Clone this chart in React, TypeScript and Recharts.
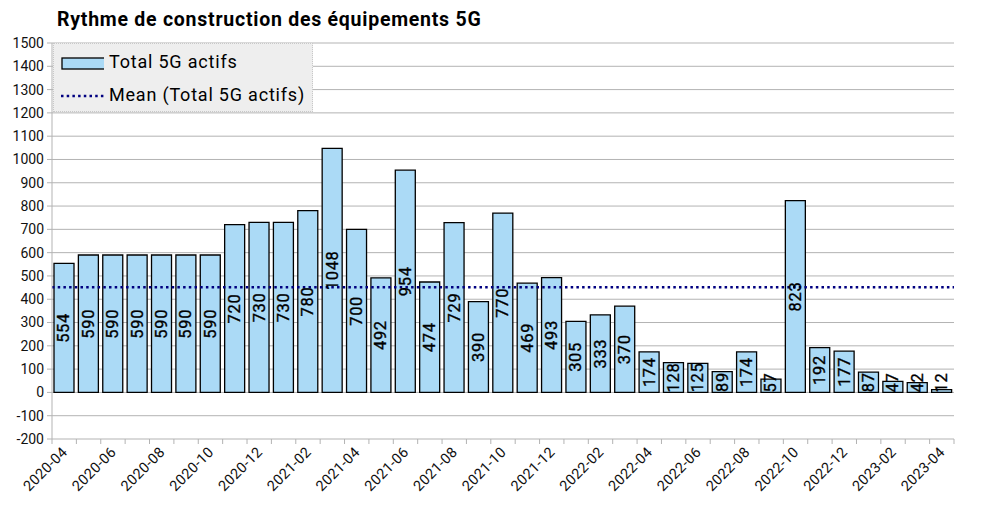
import {
  BarChart,
  Bar,
  XAxis,
  YAxis,
  CartesianGrid,
  ReferenceLine,
  LabelList,
} from "recharts";

const months = [
  "2020-04", "2020-05", "2020-06", "2020-07", "2020-08", "2020-09", "2020-10",
  "2020-11", "2020-12", "2021-01", "2021-02", "2021-03", "2021-04", "2021-05",
  "2021-06", "2021-07", "2021-08", "2021-09", "2021-10", "2021-11", "2021-12",
  "2022-01", "2022-02", "2022-03", "2022-04", "2022-05", "2022-06", "2022-07",
  "2022-08", "2022-09", "2022-10", "2022-11", "2022-12", "2023-01", "2023-02",
  "2023-03", "2023-04",
];

const totalActifs = [
  554, 590, 590, 590, 590, 590, 590, 720, 730, 730, 780, 1048, 700, 492, 954,
  474, 729, 390, 770, 469, 493, 305, 333, 370, 174, 128, 125, 89, 174, 57, 823,
  192, 177, 87, 47, 42, 12,
];

const labeledMonths = [
  "2020-04", "2020-06", "2020-08", "2020-10", "2020-12", "2021-02", "2021-04",
  "2021-06", "2021-08", "2021-10", "2021-12", "2022-02", "2022-04", "2022-06",
  "2022-08", "2022-10", "2022-12", "2023-02", "2023-04",
];

const yTicks = [
  -200, -100, 0, 100, 200, 300, 400, 500, 600, 700, 800, 900, 1000, 1100, 1200,
  1300, 1400, 1500,
];

const BAR_FILL = "#abdaf6";
const MEAN_COLOR = "#000080";
const GRID = "#b3b3b3";
const FONT = "Roboto, 'Liberation Sans', sans-serif";

const W = 985;
const H = 507;
const PLOT_LEFT = 52;
const PLOT_RIGHT = 954;
const BAND = (PLOT_RIGHT - PLOT_LEFT) / months.length;

const data = months.map((m, i) => ({ month: m, total: totalActifs[i] }));
const mean = totalActifs.reduce((a, b) => a + b, 0) / totalActifs.length;

function XTick(props: any) {
  const { x, y, payload } = props;
  const i = payload.index;
  const left = x - BAND / 2;
  const show = labeledMonths.includes(payload.value);
  const tx = x + 4;
  const ty = y + 14;
  return (
    <g>
      <line x1={left} x2={left} y1={y} y2={y + 5} stroke={GRID} />
      {i === months.length - 1 && (
        <line x1={x + BAND / 2} x2={x + BAND / 2} y1={y} y2={y + 5} stroke={GRID} />
      )}
      {show && (
        <text
          x={tx}
          y={ty}
          transform={`rotate(-45, ${tx}, ${ty})`}
          textAnchor="end"
          fontSize={14.5}
          letterSpacing={0.3}
          fontFamily={FONT}
          fill="#111"
        >
          {payload.value}
        </text>
      )}
    </g>
  );
}

function BarValue(props: any) {
  const { x, y, width, height, value } = props;
  const cx = x + width / 2;
  const base = y + height;
  const textLen = String(value).length * 10;
  const cy = Math.min(y + height / 2, base - textLen / 2);
  return (
    <text
      x={cx}
      y={cy}
      transform={`rotate(-90, ${cx}, ${cy})`}
      textAnchor="middle"
      dominantBaseline="central"
      fontSize={16.5}
      letterSpacing={0.7}
      fontFamily={FONT}
      fill="#000"
      stroke="#000"
      strokeWidth={0.35}
    >
      {value}
    </text>
  );
}

export default function App() {
  return (
    <div
      style={{
        position: "absolute",
        left: 0,
        top: 0,
        width: W,
        height: H,
        background: "#fff",
        fontFamily: FONT,
      }}
    >
      <div
        style={{
          position: "absolute",
          left: 57,
          top: 8,
          fontSize: 19.5,
          letterSpacing: 0.75,
          fontWeight: "bold",
          color: "#000",
          whiteSpace: "nowrap",
        }}
      >
        Rythme de construction des équipements 5G
      </div>
      <BarChart
        width={W}
        height={H}
        data={data}
        margin={{ top: 43, right: W - PLOT_RIGHT, bottom: 0, left: 4 }}
        barCategoryGap={2}
      >
        <CartesianGrid vertical={false} stroke={GRID} />
        <XAxis
          dataKey="month"
          interval={0}
          height={68}
          axisLine={false}
          tickLine={false}
          tickSize={0}
          tickMargin={0}
          tick={<XTick />}
        />
        <YAxis
          domain={[-200, 1500]}
          ticks={yTicks}
          interval={0}
          width={48}
          tickSize={5}
          tickMargin={3}
          axisLine={{ stroke: GRID }}
          tickLine={{ stroke: GRID }}
          tick={{ fontSize: 14, fill: "#111", fontFamily: FONT }}
        />
        <YAxis
          yAxisId="right"
          orientation="right"
          domain={[-200, 1500]}
          width={0}
          tick={false}
          tickLine={false}
          axisLine={{ stroke: GRID }}
        />
        <Bar
          dataKey="total"
          fill={BAR_FILL}
          stroke="#000"
          strokeWidth={1.3}
          isAnimationActive={false}
        >
          <LabelList dataKey="total" content={<BarValue />} />
        </Bar>
        <ReferenceLine
          y={mean}
          stroke={MEAN_COLOR}
          strokeWidth={2.5}
          strokeDasharray="2.5 3.2"
        />
      </BarChart>
      <div
        style={{
          position: "absolute",
          left: 53,
          top: 43,
          width: 260,
          height: 69,
          background: "#eeeeee",
          border: "1px dotted #c8c8c8",
          boxSizing: "border-box",
          fontSize: 18,
          letterSpacing: 0.8,
          color: "#000",
        }}
      >
        <svg
          width={50}
          height={68}
          style={{ position: "absolute", left: 0, top: 0 }}
        >
          <rect x={8} y={14} width={43} height={11} fill={BAR_FILL} stroke="#000" strokeWidth={1.3} />
          <line
            x1={7}
            x2={51}
            y1={52}
            y2={52}
            stroke={MEAN_COLOR}
            strokeWidth={2.5}
            strokeDasharray="2.5 3.2"
          />
        </svg>
        <div style={{ position: "absolute", left: 55, top: 7, whiteSpace: "nowrap" }}>
          Total 5G actifs
        </div>
        <div style={{ position: "absolute", left: 55, top: 40, whiteSpace: "nowrap" }}>
          Mean (Total 5G actifs)
        </div>
      </div>
    </div>
  );
}
